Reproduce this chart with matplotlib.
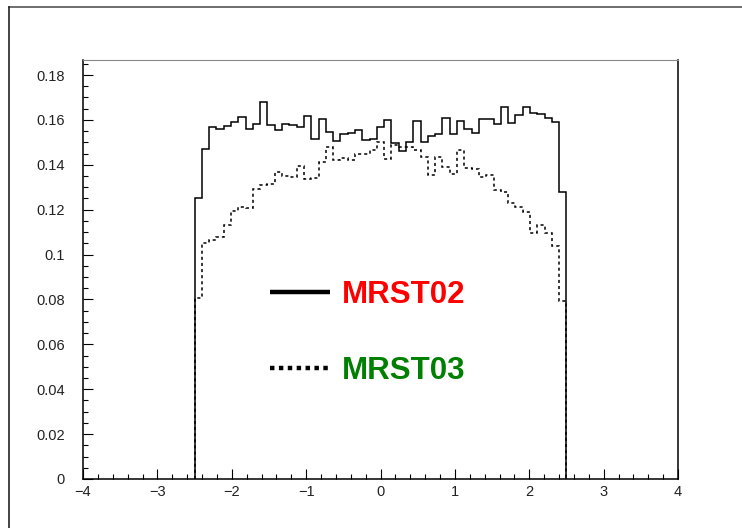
import matplotlib
matplotlib.use("Agg")
import matplotlib.pyplot as plt
import numpy as np
from matplotlib.lines import Line2D
from matplotlib.ticker import MultipleLocator

plt.rcParams['font.family'] = ['Liberation Sans', 'DejaVu Sans']

# histogram bin edges (51 bins between -2.5 and 2.5)
edges = np.linspace(-2.5, 2.5, 52)

# MRST02 (solid)
mrst02 = [0.1251, 0.1469, 0.1570, 0.1558, 0.1573, 0.1590, 0.1612, 0.1560, 0.1583, 0.1681,
          0.1576, 0.1555, 0.1583, 0.1576, 0.1567, 0.1618, 0.1514, 0.1603, 0.1548, 0.1508,
          0.1537, 0.1543, 0.1555, 0.1511, 0.1514, 0.1570, 0.1600, 0.1496, 0.1462, 0.1500,
          0.1595, 0.1500, 0.1530, 0.1537, 0.1607, 0.1537, 0.1595, 0.1558, 0.1543, 0.1604,
          0.1606, 0.1582, 0.1656, 0.1588, 0.1622, 0.1656, 0.1630, 0.1627, 0.1609, 0.1592,
          0.1278]

# MRST03 (dotted)
mrst03 = [0.0805, 0.1052, 0.1065, 0.1080, 0.1132, 0.1196, 0.1214, 0.1206, 0.1292, 0.1310,
          0.1313, 0.1368, 0.1350, 0.1344, 0.1395, 0.1335, 0.1343, 0.1411, 0.1478, 0.1422,
          0.1429, 0.1422, 0.1447, 0.1448, 0.1466, 0.1500, 0.1425, 0.1488, 0.1478, 0.1478,
          0.1466, 0.1436, 0.1355, 0.1436, 0.1392, 0.1359, 0.1466, 0.1387, 0.1383, 0.1344,
          0.1355, 0.1288, 0.1280, 0.1229, 0.1214, 0.1191, 0.1098, 0.1132, 0.1098, 0.1038,
          0.0795]

labels = ['MRST02', 'MRST03']
label_colors = ['#ff0000', '#008000']

fig = plt.figure(figsize=(7.42, 5.28), dpi=100)
ax = fig.add_axes([83 / 742, 49 / 528, 595 / 742, 419 / 528])

ax.stairs(mrst02, edges, baseline=0, color='black', lw=1.1)
ax.stairs(mrst03, edges, baseline=0, color='black', lw=1.1, linestyle=(0, (2, 2)))

ax.set_xlim(-4, 4)
ax.set_ylim(0, 0.1867)

# legend drawn by hand, as in the original
ax.plot([-1.49, -0.68], [0.0833, 0.0833], color='black', lw=3.2, solid_capstyle='butt')
ax.plot([-1.49, -0.68], [0.0495, 0.0495], color='black', lw=3.2, linestyle=(0, (1, 1)))
ax.text(-0.52, 0.0820, labels[0], color=label_colors[0], fontsize=22.5,
        fontweight='bold', va='center', ha='left')
ax.text(-0.52, 0.0482, labels[1], color=label_colors[1], fontsize=22.5,
        fontweight='bold', va='center', ha='left')

ax.xaxis.set_major_locator(MultipleLocator(1))
ax.xaxis.set_minor_locator(MultipleLocator(0.2))
ax.yaxis.set_major_locator(MultipleLocator(0.02))
ax.yaxis.set_minor_locator(MultipleLocator(0.005))
ax.set_yticks(np.arange(0, 0.181, 0.02))
ax.set_yticklabels(['0'] + ['%g' % v for v in np.arange(0.02, 0.181, 0.02)])

ax.tick_params(which='both', direction='in', top=False, right=False,
               labelsize=10.5, width=0.8, labelcolor='#222222')
ax.tick_params(which='major', length=7)
ax.tick_params(which='minor', length=3.5)
ax.tick_params(axis='y', pad=13)
ax.tick_params(axis='x', pad=4)

for s in ['left', 'bottom', 'right']:
    ax.spines[s].set_linewidth(1.1)
ax.spines['top'].set_color('#888888')

# outer canvas frame (top and left edges)
fig.add_artist(Line2D([9 / 742, 1], [1 - 7 / 528, 1 - 7 / 528], color='#555555', lw=1.2))
fig.add_artist(Line2D([9 / 742, 9 / 742], [0, 1 - 7 / 528], color='#222222', lw=1.2))

fig.savefig('out.png', dpi=100)
